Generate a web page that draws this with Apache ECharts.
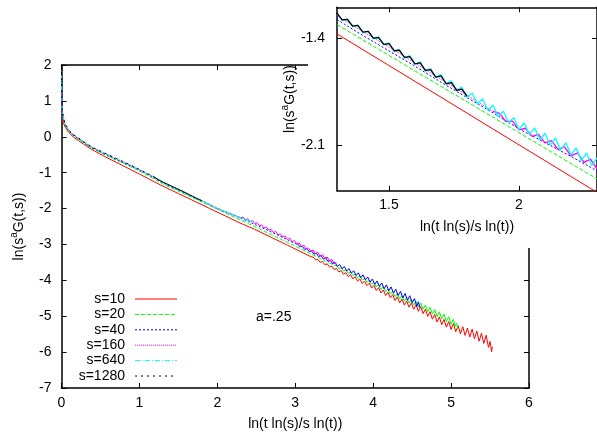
<!DOCTYPE html>
<html>
<head>
<meta charset="utf-8">
<script src="https://cdn.jsdelivr.net/npm/echarts@6/dist/echarts.min.js"></script>
<style>html,body{margin:0;padding:0;background:#fff}#c{width:597px;height:436px}</style>
</head>
<body>
<div id="c"></div>
<script>
const FONT = '"Liberation Sans", Arial, Helvetica, sans-serif';
const seriesNames = ['s=10', 's=20', 's=40', 's=160', 's=640', 's=1280'];
const insetXTicks = [1.5, 2];
const insetYTicks = [-2.1, -1.4];

const s10 = [[0,0.57],[0.01,0.48],[0.02,0.41],[0.035,0.33],[0.05,0.26],[0.08,0.16],[0.11,0.08],[0.16,-0.02],[0.22,-0.11],[0.28,-0.2],[0.34,-0.29],[0.45,-0.43],[0.56,-0.555],[0.66,-0.665],[0.77,-0.785],[0.88,-0.905],[1.0,-1.04],[1.1,-1.15],[1.2,-1.265],[1.3,-1.374],[1.5,-1.581],[1.7,-1.788],[1.9,-1.996],[2.1,-2.203],[2.29,-2.40],[2.48,-2.58],[2.7,-2.81],[2.9,-3.02],[3.1,-3.235],[3.2,-3.34],
[3.23,-3.352],[3.26,-3.430],[3.29,-3.415],[3.32,-3.498],[3.35,-3.477],[3.38,-3.565],[3.41,-3.539],[3.44,-3.631],[3.47,-3.602],[3.50,-3.699],[3.53,-3.665],[3.56,-3.766],[3.59,-3.725],[3.62,-3.831],[3.65,-3.785],[3.68,-3.895],[3.71,-3.843],[3.74,-3.959],[3.77,-3.903],[3.80,-4.022],[3.83,-3.961],[3.86,-4.087],[3.89,-4.020],[3.92,-4.150],[3.95,-4.079],[3.98,-4.215],[4.01,-4.139],[4.04,-4.282],[4.07,-4.203],[4.10,-4.351],[4.13,-4.268],[4.16,-4.420],[4.19,-4.332],[4.22,-4.490],[4.25,-4.397],[4.28,-4.560],[4.31,-4.460],[4.34,-4.629],[4.37,-4.521],[4.40,-4.688],[4.43,-4.574],[4.46,-4.747],[4.49,-4.628],[4.52,-4.805],[4.55,-4.680],[4.58,-4.863],[4.61,-4.733],[4.64,-4.927],[4.67,-4.803],[4.70,-5.005],[4.73,-4.876],[4.76,-5.083],[4.79,-4.948],[4.82,-5.160],[4.85,-5.020],[4.88,-5.237],[4.91,-5.090],[4.94,-5.305],[4.97,-5.148],[5.00,-5.370],[5.03,-5.205],[5.06,-5.430],[5.09,-5.260],[5.12,-5.490],[5.15,-5.294],[5.18,-5.534],[5.21,-5.328],[5.24,-5.578],[5.27,-5.362],[5.30,-5.626],[5.33,-5.413],[5.36,-5.695],[5.39,-5.472],[5.42,-5.758],[5.45,-5.530],[5.48,-5.866],[5.50,-5.702],[5.52,-5.988],[5.53,-5.850]];

const s20 = [[0,0.85],[0.005,0.72],[0.01,0.66],[0.02,0.52],[0.035,0.40],[0.05,0.31],[0.08,0.19],[0.11,0.11],[0.16,0.01],[0.22,-0.08],[0.28,-0.17],[0.34,-0.26],[0.45,-0.39],[0.56,-0.505],[0.66,-0.61],[0.77,-0.72],[0.88,-0.83],[1.0,-0.96],[1.1,-1.07],[1.2,-1.19],[1.3,-1.313],[1.4,-1.414],[1.5,-1.515],[1.6,-1.616],[1.7,-1.717],[1.8,-1.818],[1.9,-1.919],[2.0,-2.02],[2.1,-2.121],[2.2,-2.222],[2.29,-2.312],[2.4,-2.42],[2.5,-2.525],[2.6,-2.63],[2.7,-2.735],[2.8,-2.84],[2.9,-2.945],[3.0,-3.05],[3.1,-3.155],[3.2,-3.26],[3.3,-3.37],[3.4,-3.48],[3.5,-3.585],
[3.53,-3.591],[3.56,-3.676],[3.59,-3.649],[3.62,-3.739],[3.65,-3.708],[3.68,-3.803],[3.71,-3.766],[3.74,-3.866],[3.77,-3.825],[3.80,-3.930],[3.83,-3.882],[3.86,-3.992],[3.89,-3.940],[3.92,-4.055],[3.95,-3.998],[3.98,-4.117],[4.01,-4.056],[4.04,-4.184],[4.07,-4.118],[4.10,-4.251],[4.13,-4.181],[4.16,-4.319],[4.19,-4.244],[4.22,-4.386],[4.25,-4.306],[4.28,-4.454],[4.31,-4.369],[4.34,-4.521],[4.37,-4.428],[4.40,-4.579],[4.43,-4.479],[4.46,-4.636],[4.49,-4.529],[4.52,-4.691],[4.55,-4.580],[4.58,-4.746],[4.61,-4.631],[4.64,-4.806],[4.67,-4.691],[4.70,-4.874],[4.73,-4.753],[4.76,-4.940],[4.79,-4.814],[4.82,-5.006],[4.85,-4.876],[4.88,-5.074],[4.91,-4.941],[4.94,-5.149],[4.97,-5.014],[5.00,-5.227],[5.03,-5.087],[5.05,-5.290],[5.07,-5.200],[5.09,-5.370]];

const s40 = [[0,1.1],[0.004,0.9],[0.01,0.74],[0.02,0.55],[0.035,0.42],[0.05,0.33],[0.08,0.21],[0.11,0.13],[0.16,0.03],[0.22,-0.06],[0.28,-0.15],[0.34,-0.24],[0.45,-0.37],[0.56,-0.48],[0.66,-0.585],[0.77,-0.695],[0.88,-0.805],[1.0,-0.93],[1.1,-1.04],[1.2,-1.16],[1.3,-1.28],[1.4,-1.385],[1.5,-1.485],[1.6,-1.585],[1.7,-1.69],[1.8,-1.79],[1.9,-1.89],[2.0,-1.995],[2.1,-2.085],[2.2,-2.175],[2.29,-2.26],[2.4,-2.36],[2.5,-2.46],[2.6,-2.56],[2.7,-2.66],[2.8,-2.765],[2.9,-2.87],[3.0,-2.975],
[3.03,-2.988],[3.06,-3.066],[3.09,-3.052],[3.12,-3.135],[3.15,-3.115],[3.18,-3.203],[3.21,-3.178],[3.24,-3.271],[3.27,-3.242],[3.30,-3.339],[3.33,-3.306],[3.36,-3.407],[3.39,-3.370],[3.42,-3.475],[3.45,-3.434],[3.48,-3.543],[3.51,-3.498],[3.54,-3.612],[3.57,-3.560],[3.60,-3.675],[3.63,-3.618],[3.66,-3.737],[3.69,-3.675],[3.72,-3.800],[3.75,-3.733],[3.78,-3.862],[3.81,-3.790],[3.84,-3.925],[3.87,-3.848],[3.90,-3.987],[3.93,-3.905],[3.96,-4.050],[3.99,-3.963],[4.02,-4.111],[4.05,-4.018],[4.08,-4.171],[4.11,-4.073],[4.14,-4.231],[4.17,-4.127],[4.20,-4.290],[4.23,-4.184],[4.26,-4.356],[4.29,-4.246],[4.32,-4.423],[4.35,-4.308],[4.38,-4.490],[4.41,-4.369],[4.44,-4.556],[4.47,-4.430],[4.50,-4.625],[4.53,-4.508],[4.56,-4.726],[4.58,-4.598],[4.60,-4.760]];

const s160 = [[0,1.45],[0.003,1.1],[0.01,0.77],[0.02,0.57],[0.035,0.43],[0.05,0.34],[0.08,0.22],[0.11,0.14],[0.16,0.04],[0.22,-0.05],[0.28,-0.14],[0.34,-0.23],[0.45,-0.36],[0.56,-0.47],[0.66,-0.57],[0.77,-0.68],[0.88,-0.79],[1.0,-0.915],[1.1,-1.025],[1.2,-1.14],[1.3,-1.255],[1.4,-1.36],[1.5,-1.46],[1.6,-1.565],[1.7,-1.67],[1.8,-1.775],[1.9,-1.88],
[1.925,-1.894],[1.95,-1.948],[1.975,-1.945],[2.00,-2.001],[2.025,-1.991],[2.05,-2.044],[2.075,-2.031],[2.10,-2.087],[2.125,-2.072],[2.15,-2.129],[2.175,-2.112],[2.20,-2.172],[2.225,-2.152],[2.25,-2.214],[2.275,-2.193],[2.30,-2.256],[2.33,-2.237],[2.36,-2.309],[2.39,-2.287],[2.42,-2.361],[2.45,-2.337],[2.48,-2.416],[2.51,-2.396],[2.54,-2.478],[2.57,-2.456],[2.60,-2.541],[2.63,-2.516],[2.66,-2.603],[2.69,-2.577],[2.72,-2.666],[2.75,-2.639],[2.78,-2.730],[2.81,-2.701],[2.84,-2.794],[2.87,-2.763],[2.90,-2.858],[2.93,-2.826],[2.96,-2.925],[2.99,-2.891],[3.02,-2.992],[3.05,-2.956],[3.08,-3.059],[3.11,-3.021],[3.14,-3.126],[3.17,-3.086],[3.20,-3.193],[3.23,-3.151],[3.26,-3.260],[3.29,-3.216],[3.32,-3.327],[3.35,-3.281],[3.38,-3.397],[3.41,-3.350],[3.44,-3.469],[3.47,-3.418],[3.50,-3.541],[3.53,-3.520]];

const s640 = [[0,1.70],[0.002,1.32],[0.005,1.04],[0.01,0.78],[0.02,0.58],[0.035,0.44],[0.05,0.35],[0.08,0.23],[0.11,0.15],[0.16,0.05],[0.22,-0.04],[0.28,-0.13],[0.34,-0.22],[0.45,-0.35],[0.56,-0.46],[0.66,-0.56],[0.77,-0.67],[0.88,-0.78],[1.0,-0.91],[1.1,-1.02],[1.2,-1.135],[1.28,-1.23],
[1.30,-1.240],[1.32,-1.285],[1.34,-1.278],[1.36,-1.326],[1.38,-1.316],[1.40,-1.368],[1.42,-1.355],[1.44,-1.407],[1.46,-1.392],[1.48,-1.446],[1.50,-1.433],[1.52,-1.489],[1.54,-1.476],[1.56,-1.533],[1.58,-1.516],[1.60,-1.572],[1.62,-1.557],[1.64,-1.617],[1.66,-1.600],[1.68,-1.658],[1.70,-1.640],[1.72,-1.699],[1.74,-1.681],[1.76,-1.743],[1.78,-1.722],[1.80,-1.789],[1.82,-1.761],[1.84,-1.832],[1.86,-1.800],[1.88,-1.872],[1.90,-1.840],[1.92,-1.915],[1.94,-1.880],[1.96,-1.957],[1.98,-1.920],[2.00,-1.999],[2.02,-1.956],[2.04,-2.033],[2.06,-1.988],[2.08,-2.067],[2.10,-2.023],[2.12,-2.102],[2.14,-2.055],[2.16,-2.134],[2.18,-2.086],[2.20,-2.166],[2.22,-2.120],[2.24,-2.203],[2.26,-2.152],[2.28,-2.234],[2.30,-2.185],[2.32,-2.271],[2.34,-2.220],[2.36,-2.304],[2.38,-2.252],[2.40,-2.340],[2.42,-2.287],[2.44,-2.373],[2.46,-2.335]];

const s1280 = [[0,1.80],[0.002,1.35],[0.005,1.05],[0.01,0.78],[0.02,0.58],[0.035,0.44],[0.05,0.35],[0.08,0.23],[0.11,0.15],[0.16,0.05],[0.22,-0.04],[0.28,-0.13],[0.34,-0.22],[0.45,-0.35],[0.56,-0.46],[0.66,-0.56],[0.77,-0.67],[0.88,-0.78],[1.0,-0.91],[1.1,-1.02],[1.2,-1.135],
[1.22,-1.148],[1.24,-1.193],[1.26,-1.193],[1.28,-1.240],[1.30,-1.238],[1.32,-1.282],[1.34,-1.279],[1.36,-1.323],[1.38,-1.318],[1.40,-1.362],[1.42,-1.357],[1.44,-1.402],[1.46,-1.398],[1.48,-1.443],[1.50,-1.438],[1.52,-1.484],[1.54,-1.481],[1.56,-1.528],[1.58,-1.522],[1.60,-1.570],[1.62,-1.564],[1.64,-1.613],[1.66,-1.608],[1.68,-1.657],[1.70,-1.649],[1.72,-1.700],[1.74,-1.692],[1.76,-1.743],[1.78,-1.735],[1.80,-1.780]];

const seriesData = [s10, s20, s40, s160, s640, s1280];
// x position where each curve becomes noisy (drawn as a solid band from there on)
const noiseFrom = [3.2, 3.5, 3.0, 1.9, 1.28, 1.2];
const lineColors = ['#ff0000', '#00ff00', '#0000ff', '#ff00ff', '#00ffff', '#000000'];
const lineTypes = ['solid', [4, 2], [2, 2], [1, 1], [5, 2, 1, 2], [2, 4]];

const chart = echarts.init(document.getElementById('c'), null, {renderer: 'canvas'});

const axisLineStyle = {color: '#000', width: 1.5};
const labelStyle = {color: '#000', fontSize: 14, fontFamily: FONT};
const nameStyleRich = {
  color: '#000', fontSize: 14, fontFamily: FONT,
  rich: {
    n: {fontSize: 14, fontFamily: FONT, color: '#000', lineHeight: 20},
    sup: {fontSize: 10, fontFamily: FONT, color: '#000', lineHeight: 10, verticalAlign: 'top'}
  }
};

function mkX(grid, pos, opts) {
  return Object.assign({
    type: 'value', gridIndex: grid, position: pos,
    axisLine: {show: true, onZero: false, lineStyle: axisLineStyle},
    axisTick: {show: true, inside: true, length: 5, lineStyle: {color: '#000', width: 1}},
    splitLine: {show: false},
    axisLabel: Object.assign({show: pos === 'bottom'}, labelStyle)
  }, opts);
}
function mkY(grid, pos, opts) {
  return Object.assign({
    type: 'value', gridIndex: grid, position: pos,
    axisLine: {show: true, onZero: false, lineStyle: axisLineStyle},
    axisTick: {show: true, inside: true, length: 5, lineStyle: {color: '#000', width: 1}},
    splitLine: {show: false},
    axisLabel: Object.assign({show: pos === 'left'}, labelStyle)
  }, opts);
}

const xAxes = [
  mkX(0, 'bottom', {min: 0, max: 6, interval: 1, z: 1,
    axisLabel: Object.assign({show: true, margin: 8}, labelStyle),
    name: 'ln(t ln(s)/s ln(t))', nameLocation: 'middle', nameGap: 29,
    nameTextStyle: {color: '#000', fontSize: 14, fontFamily: FONT}}),
  mkX(0, 'top', {min: 0, max: 6, interval: 1, z: 1}),
  mkX(1, 'bottom', {min: 1.3, max: 2.3, z: 6,
    axisLabel: Object.assign({show: true, margin: 7, customValues: insetXTicks}, labelStyle),
    axisTick: {show: true, inside: true, length: 5, customValues: insetXTicks, lineStyle: {color: '#000', width: 1}},
    name: 'ln(t ln(s)/s ln(t))', nameLocation: 'middle', nameGap: 29,
    nameTextStyle: {color: '#000', fontSize: 14, fontFamily: FONT}}),
  mkX(1, 'top', {min: 1.3, max: 2.3, z: 6,
    axisTick: {show: true, inside: true, length: 5, customValues: insetXTicks, lineStyle: {color: '#000', width: 1}}})
];
const yAxes = [
  mkY(0, 'left', {min: -7, max: 2, interval: 1, z: 1,
    axisLabel: Object.assign({show: true, margin: 10}, labelStyle),
    name: '{n|ln(s}{sup|a}{n|G(t,s))}', nameLocation: 'middle', nameGap: 32,
    nameTextStyle: nameStyleRich}),
  mkY(0, 'right', {min: -7, max: 2, interval: 1, z: 1}),
  mkY(1, 'left', {min: -2.4, max: -1.2, z: 6,
    axisLabel: Object.assign({show: true, margin: 12, customValues: insetYTicks}, labelStyle),
    axisTick: {show: true, inside: true, length: 5, customValues: insetYTicks, lineStyle: {color: '#000', width: 1}},
    name: '{n|ln(s}{sup|a}{n|G(t,s))}', nameLocation: 'middle', nameGap: 26,
    nameTextStyle: nameStyleRich}),
  mkY(1, 'right', {min: -2.4, max: -1.2, z: 6,
    axisTick: {show: true, inside: true, length: 5, customValues: insetYTicks, lineStyle: {color: '#000', width: 1}}})
];

const series = [];
function addSeries(xi, yi, z, noisyWidth) {
  seriesNames.forEach((nm, i) => {
    const d = seriesData[i];
    const smooth = d.filter(p => p[0] <= noiseFrom[i]);
    const noisy = d.filter(p => p[0] >= noiseFrom[i]);
    series.push({
      name: nm, type: 'line', data: smooth, xAxisIndex: xi, yAxisIndex: yi,
      symbol: 'none', showSymbol: false, clip: true, z: z, animation: false,
      lineStyle: {color: lineColors[i], width: 1, type: lineTypes[i]},
      itemStyle: {color: lineColors[i]}
    });
    series.push({
      name: nm, type: 'line', data: noisy, xAxisIndex: xi, yAxisIndex: yi,
      symbol: 'none', showSymbol: false, clip: true, z: z, animation: false,
      lineStyle: {color: lineColors[i], width: noisyWidth, type: 'solid'},
      itemStyle: {color: lineColors[i]}
    });
  });
}
addSeries(0, 0, 2, 1);
addSeries(2, 2, 7, 1.3);

chart.setOption({
  animation: false,
  backgroundColor: '#fff',
  grid: [
    {left: 61.5, top: 65, width: 467.5, height: 323.3},
    {left: 337, top: 7.3, width: 264, height: 183.5}
  ],
  xAxis: xAxes,
  yAxis: yAxes,
  legend: {
    data: seriesNames, orient: 'vertical', left: 65, top: 292, padding: 0,
    align: 'right', itemWidth: 42, itemHeight: 14, itemGap: 1.4,
    selectedMode: false,
    itemStyle: {opacity: 0},
    lineStyle: {width: 1},
    formatter: name => '{t|' + name + '}',
    textStyle: {color: '#000', fontSize: 14, fontFamily: FONT,
      rich: {t: {width: 60, align: 'right', padding: [0, 5, 0, 0], fontSize: 14, lineHeight: 14, fontFamily: FONT, color: '#000'}}}
  },
  graphic: [
    {type: 'rect', z: 5, silent: true, shape: {x: 308, y: 0, width: 300, height: 248}, style: {fill: '#fff'}},
    {type: 'text', z: 5, left: 256, top: 310, style: {text: 'a=.25', font: '14px ' + FONT, fill: '#000'}}
  ],
  series: series
});
</script>
</body>
</html>
